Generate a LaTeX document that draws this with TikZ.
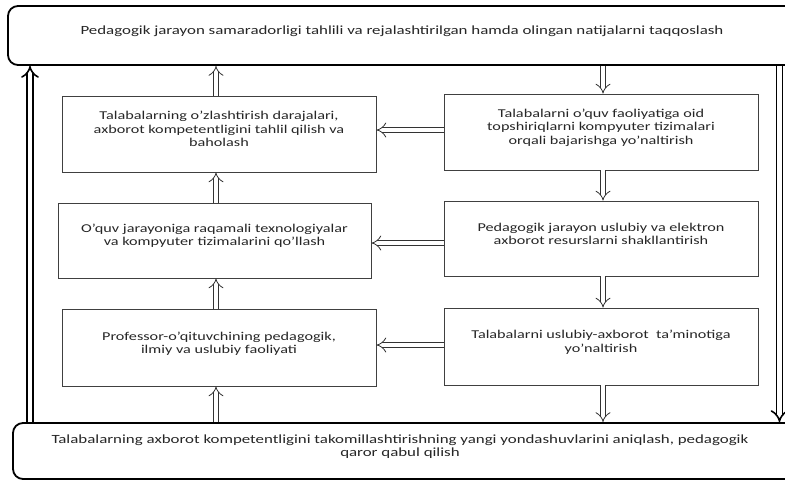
\documentclass[tikz,border=0pt]{standalone}
\usepackage{fontspec}
\setmainfont{Carlito}[FakeStretch=1.35]
\usetikzlibrary{arrows.meta}
\begin{document}
\begin{tikzpicture}[x=1pt,y=-1pt,
  font=\fontsize{12}{13.5}\selectfont,
  bigfont/.style={font=\fontsize{12.5}{13.5}\selectfont},
  big/.style={draw=black, line width=1.8pt, rounded corners=10pt, inner sep=0pt},
  stepbox/.style={draw=black!75, line width=0.8pt, minimum width=314pt, minimum height=76pt, inner sep=0pt},
  lbl/.style={align=center, text=black!85, inner sep=0pt},
  dbl/.style={draw=black!80, line width=0.8pt, double=white, double distance=4.5pt, -{Implies}},
  side/.style={draw=black, line width=1.6pt, double=white, double distance=4.5pt, -{Implies}}]
\clip (0,0) rectangle (785,480);
% big boxes
\node[big, minimum width=797pt, minimum height=59pt] (top) at (406.5,35.5) {};
\node[lbl, bigfont] (toptext) at (402,31) {Pedagogik jarayon samaradorligi tahlili va rejalashtirilgan hamda olingan natijalarni taqqoslash};
\node[big, minimum width=792pt, minimum height=56pt] (bot) at (409,451) {};
\node[lbl, bigfont] (bottext) at (400,446.5) {Talabalarning axborot kompetentligini takomillashtirishning yangi yondashuvlarini aniqlash, pedagogik\\qaror qabul qilish};
% left column
\node[stepbox] (L1) at (219,134) {};
\node[lbl] (L1t) at (219,129) {Talabalarning o’zlashtirish darajalari,\\axborot kompetentligini tahlil qilish va\\baholash};
\node[stepbox, minimum width=313pt, minimum height=75pt] (L2) at (214.5,240.5) {};
\node[lbl] (L2t) at (214.5,235.5) {O’quv jarayoniga raqamali texnologiyalar\\va kompyuter tizimalarini qo’llash};
\node[stepbox, minimum height=77pt] (L3) at (219,347.5) {};
\node[lbl] (L3t) at (219,343.5) {Professor-o’qituvchining pedagogik,\\ilmiy va uslubiy faoliyati};
% right column
\node[stepbox] (R1) at (601,132) {};
\node[lbl] (R1t) at (601,127.5) {Talabalarni o’quv faoliyatiga oid\\topshiriqlarni kompyuter tizimalari\\orqali bajarishga yo’naltirish};
\node[stepbox, minimum height=75pt] (R2) at (601,238.5) {};
\node[lbl] (R2t) at (601,234) {Pedagogik jarayon uslubiy va elektron\\axborot resurslarni shakllantirish};
\node[stepbox, minimum height=77pt] (R3) at (601,346.5) {};
\node[lbl] (R3t) at (601,342) {Talabalarni uslubiy-axborot\ \ ta’minotiga\\yo’naltirish};
% helper coordinates
\coordinate (lc) at (216,0);
\coordinate (rc) at (603,0);
\coordinate (ls) at (30,0);
\coordinate (rs) at (779.5,0);
\coordinate (row1) at (0,130);
\coordinate (row2) at (0,243);
\coordinate (row3) at (0,345);
% left column arrows (upwards)
\draw[dbl] (bot.north -| lc) -- (L3.south -| lc);
\draw[dbl] (L3.north -| lc) -- (L2.south -| lc);
\draw[dbl] (L2.north -| lc) -- (L1.south -| lc);
\draw[dbl] (L1.north -| lc) -- (top.south -| lc);
% right column arrows (downwards)
\draw[dbl] (top.south -| rc) -- (R1.north -| rc);
\draw[dbl] (R1.south -| rc) -- (R2.north -| rc);
\draw[dbl] (R2.south -| rc) -- (R3.north -| rc);
\draw[dbl] (R3.south -| rc) -- (bot.north -| rc);
% horizontal arrows (right to left)
\draw[dbl] (R1.west |- row1) -- (L1.east |- row1);
\draw[dbl] (R2.west |- row2) -- (L2.east |- row2);
\draw[dbl] (R3.west |- row3) -- (L3.east |- row3);
% side arrows
\draw[side] (bot.north -| ls) -- (top.south -| ls);
\draw[side] (top.south -| rs) -- (bot.north -| rs);
\end{tikzpicture}
\end{document}
